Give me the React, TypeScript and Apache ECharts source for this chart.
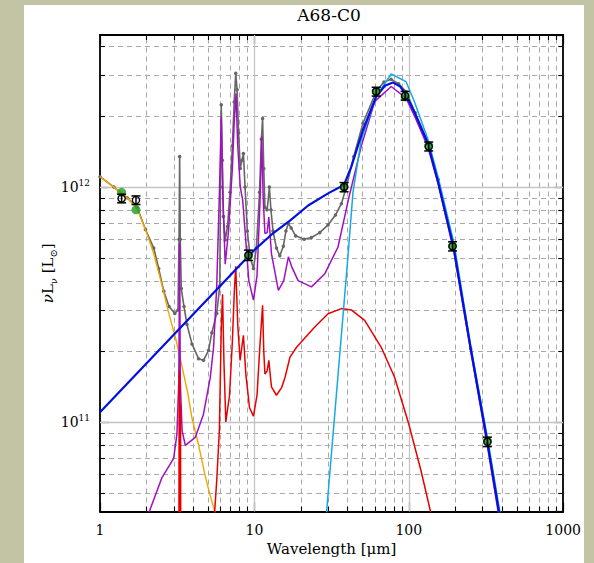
import React, { useEffect, useRef } from "react";
import * as echarts from "echarts";

// ---- axis ranges and tick values ----
const X_MIN = 1;
const X_MAX = 1000;
const Y_MIN = 4.16e10;
const Y_MAX = 4.44e12;
const xTickLabels = ["1", "10", "100", "1000"];
const xMajorGrid = [10, 100];
const yMajorGrid = [1e11, 1e12];
const xMinorVals = [2, 3, 4, 5, 6, 7, 8, 9, 20, 30, 40, 50, 60, 70, 80, 90, 200, 300, 400, 500, 600, 700, 800, 900];
const yMinorVals = [5e10, 6e10, 7e10, 8e10, 9e10, 2e11, 3e11, 4e11, 5e11, 6e11, 7e11, 8e11, 9e11, 2e12, 3e12, 4e12];

// ---- observed photometry ----
const obsWl = [1.38, 1.71, 9.15, 38.1, 61.5, 94.7, 134.6, 192, 323];
const obsLum = [8.95e11, 8.8e11, 5.13e11, 1.0e12, 2.55e12, 2.45e12, 1.49e12, 5.6e11, 8.24e10];
const obsErr = [3.8e10, 3.7e10, 2.6e10, 4.5e10, 1.1e11, 1.05e11, 6.5e10, 2.5e10, 3.8e9];
// ---- model photometry (green) ----
const modelLum = [9.5e11, 8.0e11, 5.1e11, 1.0e12, 2.55e12, 2.42e12, 1.5e12, 5.6e11, 8.3e10];

// ---- model curves [wavelength, nuLnu] ----
const grayCurve = [
  [1.0, 1.107e12], [1.23, 1.0e12], [1.5, 9.0e11], [1.74, 8.2e11], [1.97, 6.6e11], [2.23, 5.5e11],
  [2.4, 4.5e11], [2.59, 3.6e11], [2.8, 3.1e11], [3.05, 2.9e11], [3.2, 3.0e11], [3.25, 6.0e11],
  [3.28, 1.35e12], [3.31, 6.0e11], [3.36, 3.7e11], [3.5, 3.1e11], [3.66, 2.6e11], [3.94, 2.15e11],
  [4.35, 1.86e11], [4.68, 1.83e11], [5.05, 2.02e11], [5.3, 2.4e11], [5.7, 2.9e11], [5.97, 3.8e11],
  [6.03, 1.0e12], [6.1, 2.24e12], [6.2, 1.3e12], [6.3, 7.5e11], [6.47, 5.95e11], [6.7, 6.8e11],
  [6.95, 9.5e11], [7.2, 1.5e12], [7.4, 2.3e12], [7.57, 3.05e12], [7.72, 2.6e12], [7.9, 1.7e12],
  [8.1, 1.2e12], [8.3, 1.3e12], [8.49, 1.39e12], [8.7, 1.0e12], [9.0, 6.5e11], [9.4, 5.0e11],
  [9.86, 4.5e11], [10.3, 5.5e11], [10.8, 9.5e11], [11.1, 1.6e12], [11.3, 1.96e12], [11.5, 1.2e12],
  [11.7, 8.2e11], [12.1, 8.0e11], [12.5, 1.0e12], [12.8, 8.0e11], [13.2, 6.5e11], [13.9, 5.5e11],
  [14.6, 5.1e11], [15.4, 5.6e11], [16.0, 6.5e11], [16.6, 7.0e11], [17.3, 6.7e11], [18.5, 6.2e11],
  [21, 6.0e11], [23.4, 6.1e11], [26.5, 6.4e11], [30, 6.9e11], [33.5, 7.6e11], [36.6, 8.5e11],
  [39.4, 1.0e12], [44, 1.35e12], [50.5, 1.87e12], [61.5, 2.55e12], [69, 2.8e12], [76.9, 2.88e12],
  [86, 2.75e12], [96, 2.55e12], [110, 2.07e12], [133, 1.55e12], [155, 1.08e12], [195, 5.6e11],
  [252, 2.05e11], [323, 8.2e10], [385, 4.1e10], [400, 3.5e10],
];

const orangeCurve = [
  [1.0, 1.107e12], [1.23, 1.0e12], [1.5, 9.0e11], [1.74, 8.1e11], [2.02, 6.3e11], [2.23, 5.2e11],
  [2.5, 3.9e11], [2.79, 2.9e11], [3.1, 2.25e11], [3.4, 1.72e11], [3.7, 1.33e11], [3.94, 1.04e11],
  [4.35, 8.0e10], [4.8, 5.9e10], [5.2, 4.8e10], [5.52, 4.2e10], [5.8, 3.6e10],
];

const purpleCurve = [
  [1.95, 3.0e10], [2.07, 4.1e10], [2.52, 5.8e10], [3.0, 7.0e10], [3.15, 8.9e10], [3.24, 1.5e11],
  [3.28, 5.8e11], [3.31, 1.5e11], [3.4, 9.2e10], [3.57, 7.95e10], [4.14, 8.6e10], [4.68, 1.08e11],
  [5.18, 1.55e11], [5.44, 2.08e11], [5.7, 3.76e11], [5.95, 1.0e12], [6.1, 2.0e12], [6.25, 9.0e11],
  [6.47, 4.7e11], [6.8, 6.5e11], [7.2, 1.2e12], [7.4, 1.9e12], [7.6, 2.5e12], [7.8, 1.5e12],
  [8.1, 1.0e12], [8.4, 8.8e11], [8.7, 6.5e11], [9.2, 4.0e11], [9.86, 3.3e11], [10.4, 4.2e11],
  [10.9, 9.0e11], [11.15, 1.64e12], [11.4, 9.0e11], [11.7, 6.35e11], [12.1, 6.4e11], [12.4, 7.46e11],
  [12.9, 5.2e11], [14.3, 3.63e11], [15.5, 4.0e11], [16.6, 5.05e11], [17.4, 4.6e11], [19.2, 4.0e11],
  [23.4, 3.76e11], [28.6, 4.28e11], [34.8, 5.56e11], [40.4, 8.7e11], [49.2, 1.49e12], [60.1, 2.31e12],
  [76.9, 2.68e12], [96, 2.39e12], [110, 1.98e12], [133, 1.48e12], [155, 1.03e12], [195, 5.4e11],
  [252, 2.0e11], [323, 7.9e10], [385, 3.9e10], [400, 3.4e10],
];

const redCurve = [
  [3.1, 2.0e10], [3.24, 2.0e10], [3.26, 1.66e11], [3.275, 3.0e10], [3.29, 1.6e11], [3.305, 3.0e10],
  [3.32, 1.2e11], [3.34, 2.0e10], [3.5, 1.5e10], [4.5, 1.2e10], [5.3, 2.0e10], [5.52, 4.1e10],
  [5.7, 5.6e10], [5.93, 9.2e10], [6.1, 2.5e11], [6.22, 3.5e11], [6.35, 1.8e11], [6.53, 1.0e11],
  [6.9, 1.3e11], [7.2, 2.2e11], [7.4, 3.5e11], [7.57, 4.6e11], [7.8, 2.6e11], [8.08, 1.83e11],
  [8.49, 2.34e11], [8.8, 1.6e11], [9.3, 1.15e11], [9.86, 1.06e11], [10.4, 1.3e11], [10.9, 2.2e11],
  [11.3, 3.14e11], [11.5, 2.0e11], [11.7, 1.6e11], [12.1, 1.65e11], [12.4, 1.83e11], [12.9, 1.41e11],
  [13.9, 1.3e11], [15.0, 1.4e11], [15.8, 1.55e11], [17.0, 1.89e11], [18.75, 2.08e11], [24.6, 2.54e11],
  [30, 2.89e11], [36.6, 3.04e11], [42.4, 3.0e11], [51.8, 2.71e11], [66.3, 2.08e11], [80.9, 1.55e11],
  [100, 9.8e10], [120, 6.2e10], [139, 4.1e10], [145, 3.6e10],
];

const cyanCurve = [
  [28.5, 3.3e10], [29.3, 4.1e10], [40.4, 5.1e11], [43.5, 9.5e11], [49.2, 1.59e12], [61.5, 2.43e12],
  [76.9, 3.03e12], [96, 2.81e12], [108.8, 2.31e12], [133, 1.6e12], [155, 1.1e12], [197, 5.7e11],
  [252, 2.1e11], [325, 8.4e10], [390, 4.1e10], [405, 3.5e10],
];

const blueCurve = [
  [1, 1.1e11], [10, 5.4e11], [13, 6.3e11], [17, 7.2e11], [22.3, 8.35e11], [30, 9.4e11], [38, 1.02e12],
  [42.4, 1.22e12], [50.5, 1.75e12], [61.5, 2.43e12], [70, 2.7e12], [78.8, 2.79e12], [88, 2.68e12],
  [96, 2.47e12], [110, 2.05e12], [132.6, 1.54e12], [153.8, 1.07e12], [195, 5.56e11], [252, 2.05e11],
  [323, 8.2e10], [385, 4.1e10], [400, 3.5e10],
];

const FONT = "DejaVu Serif";

function isPow10(v: number) {
  const l = Math.log10(v);
  return Math.abs(l - Math.round(l)) < 1e-6;
}

export default function App() {
  const ref = useRef<HTMLDivElement>(null);
  useEffect(() => {
    if (!ref.current) return;
    const chart = echarts.init(ref.current, null, { renderer: "svg" });

    const lineSeries = (data: number[][], color: string, width: number, z: number, extra: any = {}) => ({
      type: "line",
      data,
      xAxisIndex: 0,
      yAxisIndex: 0,
      showSymbol: false,
      symbol: "none",
      lineStyle: { color, width },
      itemStyle: { color },
      z,
      silent: true,
      ...extra,
    });

    const baseAxis = {
      type: "log",
      logBase: 10,
      axisLine: { show: true, onZero: false, lineStyle: { color: "#000", width: 1.8 } },
      axisTick: { show: true, inside: true, length: 9, lineStyle: { color: "#000", width: 1.2 } },
      splitLine: { show: false },
      minorTick: { show: false },
      minorSplitLine: { show: false },
    };

    const option: any = {
      animation: false,
      backgroundColor: "transparent",
      textStyle: { fontFamily: FONT },
      grid: { left: 76, top: 30, width: 466, height: 476.5, containLabel: false },
      graphic: [
        {
          type: "text",
          x: 305,
          y: 10,
          style: {
            text: "A68-C0",
            fontFamily: FONT,
            fontSize: 17,
            fill: "#000",
            align: "center",
            verticalAlign: "middle",
          },
        },
      ],
      xAxis: [
        {
          ...baseAxis,
          position: "bottom",
          min: X_MIN,
          max: X_MAX,
          name: "Wavelength [μm]",
          nameLocation: "middle",
          nameGap: 30,
          nameTextStyle: { fontFamily: FONT, fontSize: 15, color: "#000" },
          axisLabel: {
            show: true,
            margin: 11,
            fontFamily: FONT,
            fontSize: 14,
            color: "#000",
            formatter: (v: number) => (isPow10(v) ? xTickLabels[Math.round(Math.log10(v))] ?? "" : ""),
          },
        },
        {
          ...baseAxis,
          position: "top",
          min: X_MIN,
          max: X_MAX,
          axisLabel: { show: false },
        },
      ],
      yAxis: [
        {
          ...baseAxis,
          position: "left",
          min: Y_MIN,
          max: Y_MAX,
          name: "{i|ν}L{s|ν} [L{s|⊙}]",
          nameLocation: "middle",
          nameRotate: 90,
          nameGap: 42,
          nameMoveOverlap: false,
          nameTextStyle: {
            fontFamily: FONT,
            fontSize: 15,
            color: "#000",
            lineHeight: 20,
            rich: {
              i: { fontFamily: FONT, fontSize: 15, fontStyle: "italic", lineHeight: 20 },
              s: { fontFamily: FONT, fontSize: 10, verticalAlign: "bottom", lineHeight: 20 },
            },
          },
          axisLabel: {
            show: true,
            margin: 10,
            fontFamily: FONT,
            fontSize: 14,
            lineHeight: 18,
            color: "#000",
            showMinLabel: false,
            showMaxLabel: false,
            formatter: (v: number) => (isPow10(v) ? "10{sup|" + Math.round(Math.log10(v)) + "}" : ""),
            rich: {
              sup: { fontFamily: FONT, fontSize: 9, lineHeight: 9, verticalAlign: "top", color: "#000" },
            },
          },
        },
        {
          ...baseAxis,
          position: "right",
          min: Y_MIN,
          max: Y_MAX,
          axisLabel: { show: false },
        },
      ],
      series: [
        // grid lines
        {
          type: "custom",
          xAxisIndex: 0,
          yAxisIndex: 0,
          data: [[10, 1e12]],
          silent: true,
          z: 1,
          renderItem: (_p: any, api: any) => {
            const [xl, yb] = api.coord([X_MIN, Y_MIN]);
            const [xr, yt] = api.coord([X_MAX, Y_MAX]);
            const ch: any[] = [];
            const dash = { stroke: "#a8a8a8", lineWidth: 1, lineDash: [5, 4] };
            const solid = { stroke: "#c4c4c4", lineWidth: 1.3 };
            xMinorVals.forEach((v) => {
              const x = Math.round(api.coord([v, Y_MIN])[0]) + 0.5;
              ch.push({ type: "line", shape: { x1: x, y1: yb, x2: x, y2: yt }, style: dash });
            });
            yMinorVals.forEach((v) => {
              const y = Math.round(api.coord([X_MIN, v])[1]) + 0.5;
              ch.push({ type: "line", shape: { x1: xl, y1: y, x2: xr, y2: y }, style: dash });
            });
            xMajorGrid.forEach((v) => {
              const x = Math.round(api.coord([v, Y_MIN])[0]) + 0.5;
              ch.push({ type: "line", shape: { x1: x, y1: yb, x2: x, y2: yt }, style: solid });
            });
            yMajorGrid.forEach((v) => {
              const y = Math.round(api.coord([X_MIN, v])[1]) + 0.5;
              ch.push({ type: "line", shape: { x1: xl, y1: y, x2: xr, y2: y }, style: solid });
            });
            return { type: "group", children: ch };
          },
        },
        lineSeries(grayCurve, "#666666", 1.6, 3, {
          showSymbol: true,
          symbol: "circle",
          symbolSize: 3.5,
          itemStyle: { color: "#666666" },
        }),
        lineSeries(orangeCurve, "#f0a800", 1.4, 4),
        lineSeries(purpleCurve, "#a010c0", 1.5, 5),
        lineSeries(redCurve, "#e80000", 1.5, 6),
        lineSeries(cyanCurve, "#14a8e6", 1.5, 7),
        lineSeries(blueCurve, "#0010e0", 2.2, 8),
        {
          type: "scatter",
          xAxisIndex: 0,
          yAxisIndex: 0,
          data: obsWl.map((w, i) => [w, modelLum[i]]),
          symbol: "circle",
          symbolSize: 9,
          itemStyle: { color: "#1f9e1f" },
          silent: true,
          z: 9,
        },
        // observed points with error bars
        {
          type: "custom",
          xAxisIndex: 0,
          yAxisIndex: 0,
          silent: true,
          z: 10,
          data: obsWl.map((w, i) => [w, obsLum[i], obsLum[i] - obsErr[i], obsLum[i] + obsErr[i]]),
          encode: { x: 0, y: [1, 2, 3] },
          renderItem: (_p: any, api: any) => {
            const x = api.value(0);
            const c = api.coord([x, api.value(1)]);
            const lo = api.coord([x, api.value(2)]);
            const hi = api.coord([x, api.value(3)]);
            const st = { stroke: "#000", lineWidth: 1.5 };
            return {
              type: "group",
              children: [
                { type: "line", shape: { x1: c[0], y1: lo[1], x2: c[0], y2: hi[1] }, style: st },
                { type: "line", shape: { x1: c[0] - 4.5, y1: lo[1], x2: c[0] + 4.5, y2: lo[1] }, style: st },
                { type: "line", shape: { x1: c[0] - 4.5, y1: hi[1], x2: c[0] + 4.5, y2: hi[1] }, style: st },
                { type: "circle", shape: { cx: c[0], cy: c[1], r: 3.6 }, style: { fill: "none", stroke: "#000", lineWidth: 1.4 } },
              ],
            };
          },
        },
        // minor ticks on all four sides
        {
          type: "custom",
          xAxisIndex: 0,
          yAxisIndex: 0,
          data: [[10, 1e12]],
          silent: true,
          z: 11,
          renderItem: (_p: any, api: any) => {
            const [xl, yb] = api.coord([X_MIN, Y_MIN]);
            const [xr, yt] = api.coord([X_MAX, Y_MAX]);
            const ch: any[] = [];
            const st = { stroke: "#000", lineWidth: 1.1 };
            const L = 5;
            xMinorVals.forEach((v) => {
              const x = Math.round(api.coord([v, Y_MIN])[0]) + 0.5;
              ch.push({ type: "line", shape: { x1: x, y1: yb, x2: x, y2: yb - L }, style: st });
              ch.push({ type: "line", shape: { x1: x, y1: yt, x2: x, y2: yt + L }, style: st });
            });
            yMinorVals.forEach((v) => {
              const y = Math.round(api.coord([X_MIN, v])[1]) + 0.5;
              ch.push({ type: "line", shape: { x1: xl, y1: y, x2: xl + L, y2: y }, style: st });
              ch.push({ type: "line", shape: { x1: xr, y1: y, x2: xr - L, y2: y }, style: st });
            });
            return { type: "group", children: ch };
          },
        },
      ],
    };

    chart.setOption(option);
    return () => chart.dispose();
  }, []);

  return (
    <div style={{ position: "fixed", left: 0, top: 0, width: 594, height: 563, background: "#c3c4a4", overflow: "hidden" }}>
      <div style={{ position: "absolute", left: 24, top: 5, width: 560, height: 558, background: "#ffffff", overflow: "hidden" }}>
        <div ref={ref} style={{ width: 560, height: 558 }} />
      </div>
    </div>
  );
}
